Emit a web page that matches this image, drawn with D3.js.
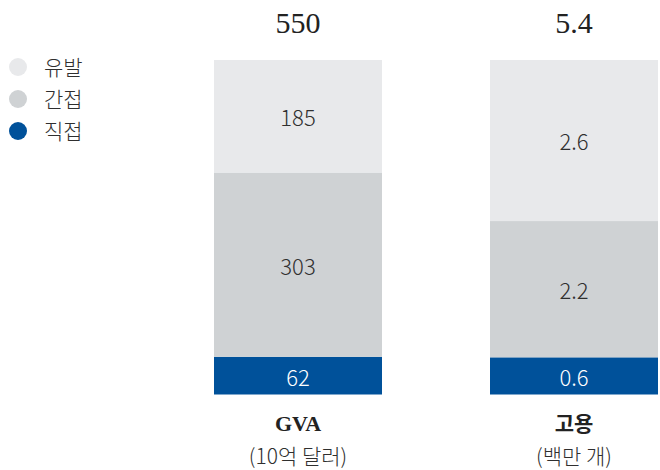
<!DOCTYPE html>
<html>
<head>
<meta charset="utf-8">
<script src="https://cdn.jsdelivr.net/npm/d3@7"></script>
<style>
  html, body { margin: 0; padding: 0; background: #fff; }
  svg { display: block; }
</style>
</head>
<body>
<svg id="chart" width="660" height="470"></svg>
<script>
// Economic contribution: direct / indirect / induced
const categories = ["GVA", "고용"];
const categoryUnits = ["(10억 달러)", "(백만 개)"];
const totals = ["550", "5.4"];
const seriesKeys = ["direct", "indirect", "induced"];
const seriesNames = ["직접", "간접", "유발"];
const directValues = [62, 0.6];
const indirectValues = [303, 2.2];
const inducedValues = [185, 2.6];
const valueLabels = {
  direct: ["62", "0.6"],
  indirect: ["303", "2.2"],
  induced: ["185", "2.6"]
};

const colors = { direct: "#00519a", indirect: "#cfd2d4", induced: "#e8e9eb" };
const labelColors = { direct: "#ffffff", indirect: "#2f2f2f", induced: "#2f2f2f" };

const rows = categories.map((c, i) => ({
  category: c,
  direct: directValues[i],
  indirect: indirectValues[i],
  induced: inducedValues[i]
}));

const svg = d3.select("#chart");

const x = d3.scaleBand().domain(categories).range([214, 658]).paddingInner(108 / 276).paddingOuter(0);
const y = d3.scaleLinear().domain([0, 1]).range([394.5, 60]);

const stack = d3.stack().keys(seriesKeys).offset(d3.stackOffsetExpand);
const layers = stack(rows);

const sans = "'Noto Sans CJK KR', 'Noto Sans', sans-serif";
const serif = "'Liberation Serif', 'DejaVu Serif', serif";

const g = svg.append("g");
layers.forEach(layer => {
  const key = layer.key;
  const lg = g.append("g");
  lg.selectAll("rect").data(layer).join("rect")
    .attr("x", d => x(d.data.category))
    .attr("width", x.bandwidth())
    .attr("y", d => y(d[1]))
    .attr("height", d => y(d[0]) - y(d[1]))
    .attr("fill", colors[key]);
  lg.selectAll("text").data(layer).join("text")
    .attr("x", d => x(d.data.category) + x.bandwidth() / 2)
    .attr("y", d => (y(d[0]) + y(d[1])) / 2 + 2)
    .attr("dy", "0.36em")
    .attr("text-anchor", "middle")
    .attr("font-family", sans)
    .attr("font-size", 22)
    .attr("font-weight", 300)
    .attr("fill", labelColors[key])
    .text((d, i) => valueLabels[key][i]);
});

// Totals above the bars
svg.append("g").selectAll("text").data(categories).join("text")
  .attr("x", d => x(d) + x.bandwidth() / 2)
  .attr("y", 33)
  .attr("text-anchor", "middle")
  .attr("font-family", serif)
  .attr("font-size", 30)
  .attr("fill", "#222")
  .text((d, i) => totals[i]);

// Category labels below the bars
const catG = svg.append("g");
catG.selectAll("text.cat").data(categories).join("text")
  .attr("class", "cat")
  .attr("x", d => x(d) + x.bandwidth() / 2)
  .attr("y", 431)
  .attr("text-anchor", "middle")
  .attr("font-family", (d, i) => i === 0 ? serif : sans)
  .attr("font-weight", "bold")
  .attr("font-size", (d, i) => i === 0 ? 22 : 21)
  .attr("fill", "#222")
  .text(d => d);
catG.selectAll("text.unit").data(categories).join("text")
  .attr("class", "unit")
  .attr("x", d => x(d) + x.bandwidth() / 2)
  .attr("y", 464)
  .attr("text-anchor", "middle")
  .attr("font-family", sans)
  .attr("font-size", 21)
  .attr("font-weight", 300)
  .attr("fill", "#2f2f2f")
  .text((d, i) => categoryUnits[i]);

// Legend (top to bottom: induced, indirect, direct)
const legendKeys = seriesKeys.slice().reverse();
const legendNames = seriesNames.slice().reverse();
const legend = svg.append("g").selectAll("g").data(legendKeys).join("g")
  .attr("transform", (d, i) => `translate(18, ${67 + i * 32})`);
legend.append("circle").attr("r", 9).attr("fill", d => colors[d]);
legend.append("text")
  .attr("x", 26)
  .attr("dy", "0.36em")
  .attr("font-family", sans)
  .attr("font-size", 21)
  .attr("font-weight", 300)
  .attr("fill", "#2f2f2f")
  .text((d, i) => legendNames[i]);
</script>
</body>
</html>
